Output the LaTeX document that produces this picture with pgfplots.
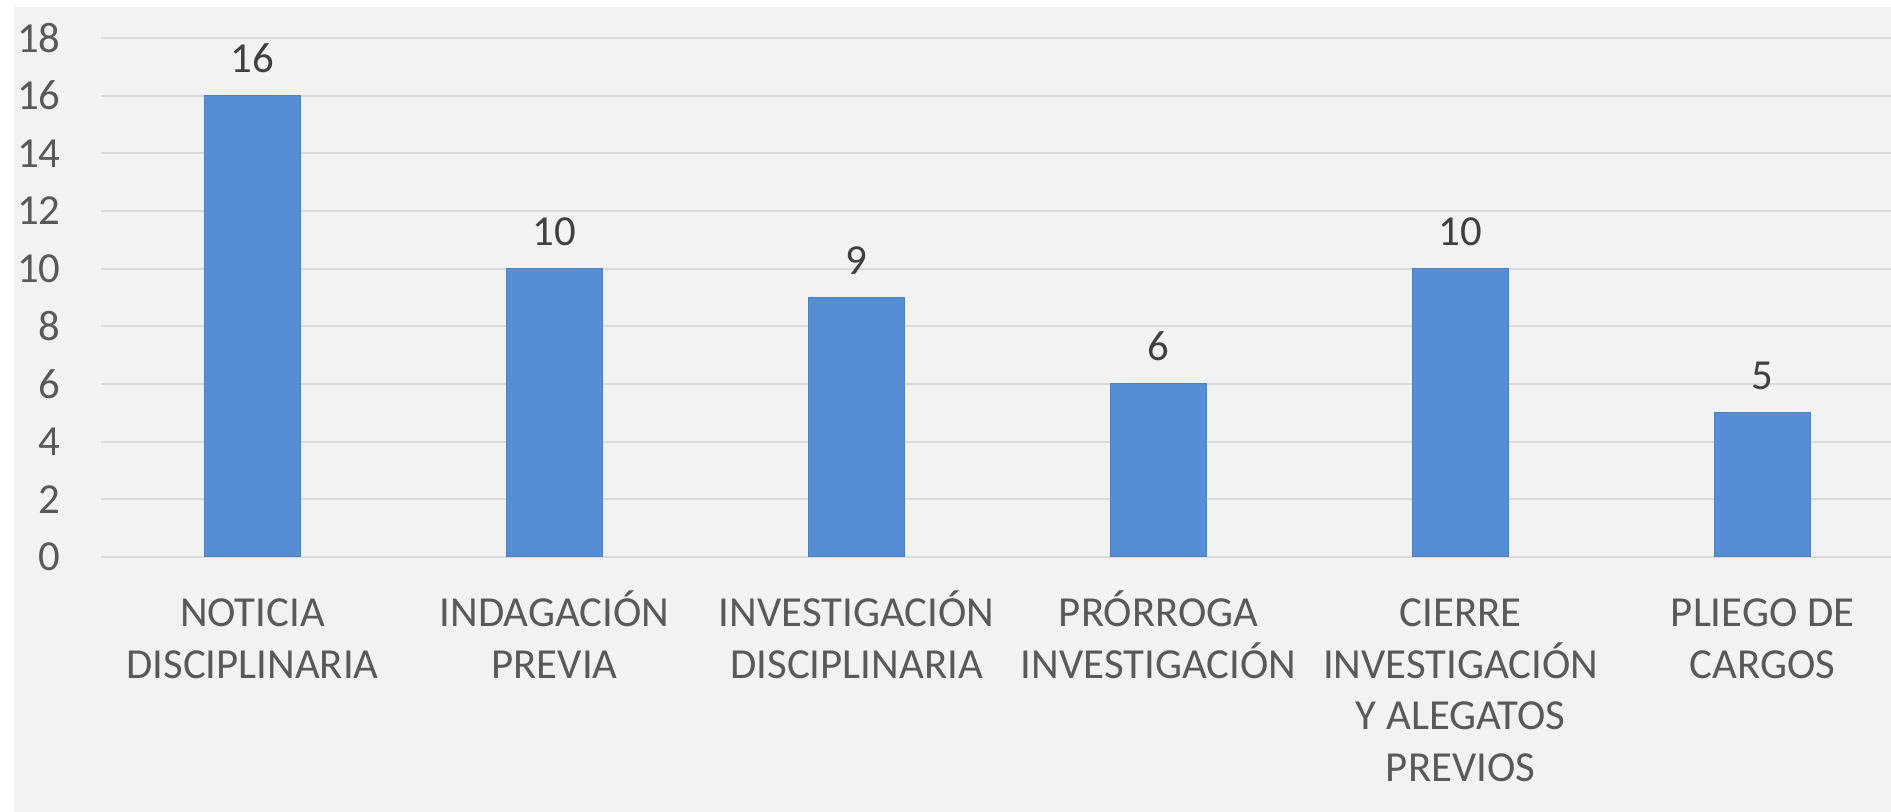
\documentclass[border=0pt]{standalone}
\usepackage{pgfplots}
\pgfplotsset{compat=1.18}
\usepackage{fontspec}
\setmainfont{Carlito}
\definecolor{panel}{HTML}{F2F2F2}
\definecolor{gridc}{HTML}{D9D9D9}
\definecolor{barc}{HTML}{558ED5}
\definecolor{barb}{HTML}{4F81BD}
\definecolor{lab}{HTML}{595959}
\definecolor{val}{HTML}{404040}
\begin{document}
\begin{tikzpicture}
\fill[white] (0,0) rectangle (945.5pt,406pt);
\fill[panel] (7pt,0) rectangle (945.5pt,402.5pt);
\begin{axis}[
  at={(50.75pt,127.5pt)}, anchor=south west,
  scale only axis, width=894.75pt, height=259.5pt,
  xmin=-0.5, xmax=5.425, ymin=0, ymax=18,
  enlargelimits=false, clip=false,
  axis line style={draw=none},
  tick style={draw=none},
  ytick={0,2,...,18},
  ymajorgrids, major grid style={gridc, line width=1pt},
  xtick={0,1,2,3,4,5},
  xticklabels={
    {\strut NOTICIA\\DISCIPLINARIA},
    {\strut INDAGACIÓN\\PREVIA},
    {\strut INVESTIGACIÓN\\DISCIPLINARIA},
    {\strut PRÓRROGA\\INVESTIGACIÓN},
    {\strut CIERRE\\INVESTIGACIÓN\\Y ALEGATOS\\PREVIOS},
    {\strut PLIEGO DE\\CARGOS}},
  xticklabel style={font=\fontsize{21.4}{25.8}\selectfont, text=lab, align=center, inner sep=0pt, anchor=north, yshift=-12.3pt},
  yticklabel style={font=\fontsize{21.4}{26}\selectfont, text=lab, inner sep=0pt, anchor=east, xshift=-20.25pt},
  /pgf/number format/assume math mode=true,
  ybar, bar width=48pt,
  nodes near coords,
  every node near coord/.append style={font=\fontsize{21.4}{26}\selectfont, text=val, inner sep=0pt, anchor=south, yshift=11.35pt},
]
\addplot[fill=barc, draw=barb, line width=0.5pt] coordinates {(0,16) (1,10) (2,9) (3,6) (4,10) (5,5)};
\end{axis}
\pgfresetboundingbox
\useasboundingbox (0,0) rectangle (945.5pt,406pt);
\end{tikzpicture}
\end{document}
